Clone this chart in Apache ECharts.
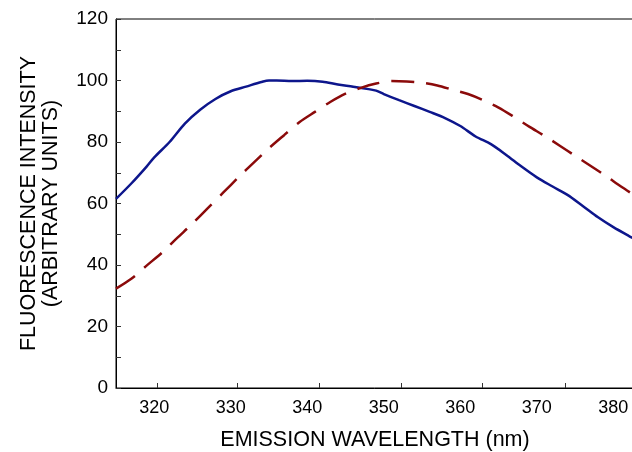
<!DOCTYPE html>
<html>
<head>
<meta charset="utf-8">
<script src="https://cdn.jsdelivr.net/npm/echarts@6/dist/echarts.min.js"></script>
<style>html,body{margin:0;padding:0;background:#fff;}#c{width:632px;height:452px;}</style>
</head>
<body>
<div id="c"></div>
<script>
// Solid blue curve (wavelength nm, intensity)
const blueWavelength = [315,317,319,320,322,324,326,328,330,332,334,335,336,338,340,342,344,346,348,349,350,352,354,356,358,360,362,364,366,368,370,372,374,376,378,380,382,383];
const blueIntensity  = [61.5,66.5,72,75,80,86,90.5,94,96.5,98,99.5,100,100,99.8,99.9,99.6,98.7,98,97.2,96.7,95.6,93.6,91.7,89.8,87.8,85.2,81.8,79.3,75.8,72,68.5,65.6,62.8,59.2,55.5,52.3,49.5,48.2];
// Dashed red curve
const redWavelength = [315,317,319,321,323,325,327,329,331,333,335,337,339,341,343,345,347,349,351,353,355,357,359,361,363,365,367,369,371,373,375,377,379,381,383];
const redIntensity  = [32.3,35.5,39.8,44,48.8,53.5,58.5,63.5,68.5,73.3,78,82.3,86.5,89.8,93,95.7,97.6,99,99.8,99.7,99.3,98.4,97,95.6,93.6,91.2,88.2,85,82,78.8,75.5,72.3,69,65.5,62.3];
// Axis
const xLabelValues = [320,330,340,350,360,370,380];
const xTickValues = [320.4,330.9,341.6,352.3,362.9,373.7];
const xMin = 315, xMax = 382.7;
const yMin = 0, yMax = 120, yStep = 20;

const pairs = (xs, ys) => xs.map((x, i) => [x, ys[i]]);
const font = '"Liberation Sans", Arial, Helvetica, sans-serif';

const chart = echarts.init(document.getElementById('c'), null, {renderer: 'canvas'});
chart.setOption({
  animation: false,
  backgroundColor: '#fff',
  grid: {left: 116, top: 19, right: -2, bottom: 64, show: true, borderColor: '#000', borderWidth: 1,
         containLabel: false, outerBoundsMode: 'none'},
  xAxis: {
    type: 'value', min: xMin, max: xMax,
    name: 'EMISSION WAVELENGTH (nm)', nameLocation: 'middle', nameGap: 41,
    nameTextStyle: {fontFamily: font, fontSize: 21.5, color: '#000'},
    axisLine: {show: true, lineStyle: {color: '#000', width: 1}},
    axisTick: {show: true, inside: true, length: 5, lineStyle: {color: '#333'}, customValues: xTickValues},
    axisLabel: {fontFamily: font, fontSize: 18, color: '#000', margin: 11, customValues: xLabelValues},
    splitLine: {show: false}
  },
  yAxis: {
    type: 'value', min: yMin, max: yMax, interval: yStep,
    name: 'FLUORESCENCE INTENSITY\n(ARBITRARY UNITS)', nameLocation: 'middle', nameGap: 54,
    nameTextStyle: {fontFamily: font, fontSize: 21.5, color: '#000', lineHeight: 22},
    axisLine: {show: true, lineStyle: {color: '#000', width: 1}},
    axisTick: {show: true, inside: true, length: 5, lineStyle: {color: '#333'}},
    minorTick: {show: true, splitNumber: 2, length: 5, lineStyle: {color: '#333'}},
    axisLabel: {fontFamily: font, fontSize: 19, color: '#000', margin: 8},
    splitLine: {show: false}
  },
  series: [
    {type: 'line', data: pairs(blueWavelength, blueIntensity), showSymbol: false, smooth: 0.3,
     lineStyle: {color: '#0d168c', width: 2.5}},
    {type: 'line', data: pairs(redWavelength, redIntensity), showSymbol: false, smooth: 0.3,
     lineStyle: {color: '#8b0a0a', width: 2.5, type: [23, 12]}}
  ]
});
</script>
</body>
</html>
